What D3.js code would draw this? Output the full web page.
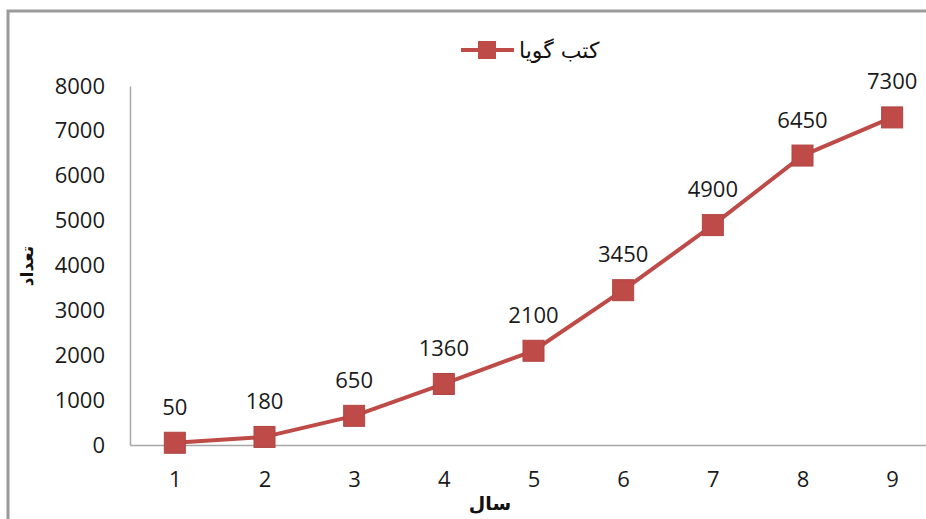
<!DOCTYPE html>
<html><head><meta charset="utf-8">
<script src="https://cdn.jsdelivr.net/npm/d3@7"></script>
<style>html,body{margin:0;padding:0;background:#fff;overflow:hidden}</style>
</head><body>
<svg id="chart" width="926" height="519"></svg>
<script>
const categories = ["1","2","3","4","5","6","7","8","9"];
const values = [50,180,650,1360,2100,3450,4900,6450,7300];
const yTicks = [0,1000,2000,3000,4000,5000,6000,7000,8000];
const seriesName = "کتب گویا";
const xTitle = "سال";
const yTitle = "تعداد";

const svg = d3.select("#chart");
const color = "#BE4B48";
const numFont = "'Open Sans', sans-serif";
const arFont = "'DejaVu Sans', sans-serif";

// outer border
svg.append("rect").attr("x",8).attr("y",11).attr("width",1000).attr("height",600)
  .attr("fill","none").attr("stroke","#9a9a9a").attr("stroke-width",3);

const x = d3.scalePoint().domain(categories).range([130,937]).padding(0.5);
const y = d3.scaleLinear().domain([0,8000]).range([445,86]);

const yAxis = svg.append("g").attr("transform","translate(130,0)")
  .call(d3.axisLeft(y).tickValues(yTicks).tickSize(0).tickPadding(25).tickFormat(d3.format("d")));
yAxis.select(".domain").attr("stroke","#a6a6a6").attr("stroke-width",1.5);
yAxis.selectAll("text").attr("font-family",numFont).attr("font-size",22).attr("fill","#1a1a1a");

const xAxis = svg.append("g").attr("transform","translate(0,445)")
  .call(d3.axisBottom(x).tickSize(0).tickPadding(26));
xAxis.select(".domain").attr("stroke","#a6a6a6").attr("stroke-width",1.5);
xAxis.selectAll("text").attr("font-family",numFont).attr("font-size",22).attr("fill","#1a1a1a");

const data = categories.map((c,i)=>({c, v:values[i]}));
const line = d3.line().x(d=>x(d.c)).y(d=>y(d.v));
svg.append("path").datum(data).attr("d",line).attr("fill","none")
  .attr("stroke",color).attr("stroke-width",4).attr("stroke-linejoin","round");

const ms = 21;
svg.selectAll("rect.pt").data(data).join("rect").attr("class","pt")
  .attr("x",d=>x(d.c)-ms/2).attr("y",d=>y(d.v)-ms/2).attr("width",ms).attr("height",ms)
  .attr("fill",color).attr("stroke","#b04542").attr("stroke-width",1);

svg.selectAll("text.lbl").data(data).join("text").attr("class","lbl")
  .attr("x",d=>x(d.c)).attr("y",d=>y(d.v)-28)
  .attr("text-anchor","middle").attr("font-family",numFont).attr("font-size",22).attr("fill","#1a1a1a")
  .text(d=>d.v);

// legend
const lg = svg.append("g");
lg.append("line").attr("x1",461).attr("x2",514).attr("y1",50).attr("y2",50)
  .attr("stroke",color).attr("stroke-width",4);
lg.append("rect").attr("x",478).attr("y",41).attr("width",18).attr("height",18).attr("fill",color);
lg.append("text").attr("x",519).attr("y",58).attr("text-anchor","start")
  .attr("font-family",arFont).attr("font-size",22).attr("fill","#111").text(seriesName);

// axis titles
svg.append("text").attr("x",490).attr("y",510).attr("text-anchor","middle")
  .attr("font-family",arFont).attr("font-size",19).attr("font-weight","bold").attr("fill","#111").text(xTitle);
svg.append("text").attr("transform","translate(33,266) rotate(-90)").attr("text-anchor","middle")
  .attr("font-family",arFont).attr("font-size",17).attr("font-weight","bold").attr("fill","#111").text(yTitle);
</script>
</body></html>
